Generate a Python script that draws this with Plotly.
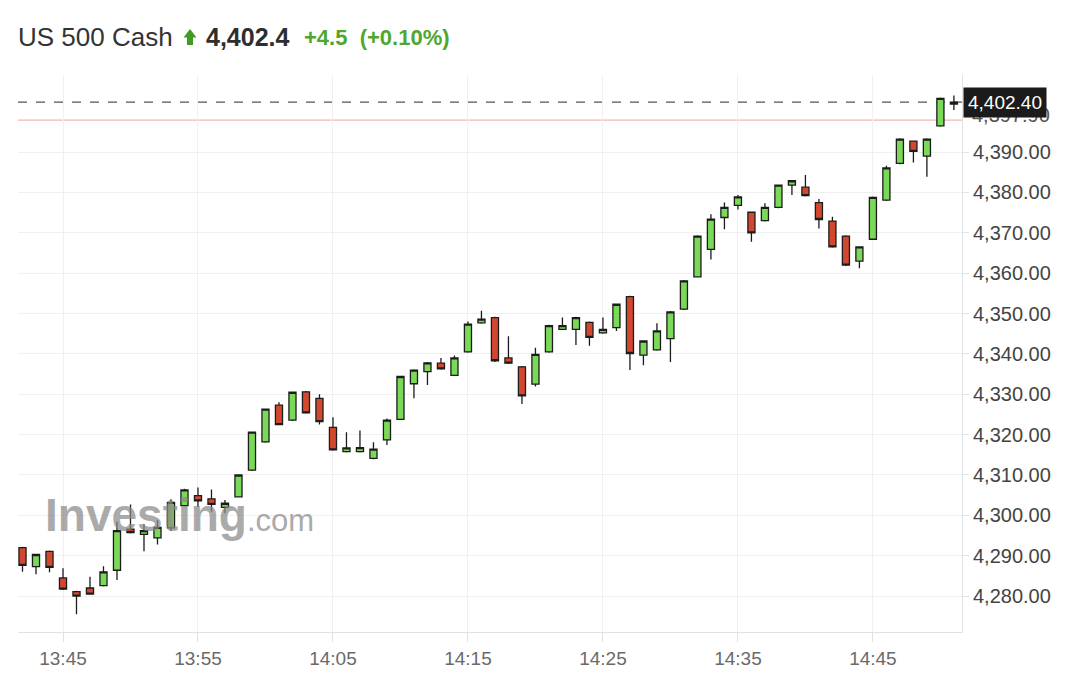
import plotly.graph_objects as go

times = ["13:42","13:43","13:44","13:45","13:46","13:47","13:48","13:49","13:50","13:51",
         "13:52","13:53","13:54","13:55","13:56","13:57","13:58","13:59","14:00","14:01",
         "14:02","14:03","14:04","14:05","14:06","14:07","14:08","14:09","14:10","14:11",
         "14:12","14:13","14:14","14:15","14:16","14:17","14:18","14:19","14:20","14:21",
         "14:22","14:23","14:24","14:25","14:26","14:27","14:28","14:29","14:30","14:31",
         "14:32","14:33","14:34","14:35","14:36","14:37","14:38","14:39","14:40","14:41",
         "14:42","14:43","14:44","14:45","14:46","14:47","14:48","14:49","14:50","14:51"]
opens = [4292.0,4287.3,4291.1,4284.5,4281.1,4282.0,4282.6,4286.4,4296.6,4295.3,
         4294.4,4296.9,4302.4,4304.9,4304.1,4302.0,4304.6,4311.2,4318.2,4327.3,
         4323.6,4330.6,4329.0,4321.8,4315.8,4315.8,4314.1,4318.7,4323.8,4332.6,
         4335.6,4337.7,4334.7,4340.5,4347.7,4349.0,4339.0,4336.8,4332.5,4340.5,
         4346.1,4346.1,4347.8,4345.2,4346.5,4354.2,4339.7,4341.0,4343.8,4351.1,
         4359.1,4365.9,4373.8,4376.8,4375.1,4373.0,4376.3,4381.8,4381.3,4377.5,
         4372.9,4369.2,4363.0,4368.4,4378.1,4387.2,4392.7,4389.0,4396.5,4401.9]
highs = [4292.2,4290.5,4291.3,4286.9,4281.3,4284.8,4287.4,4298.4,4302.7,4297.8,
         4298.8,4304.0,4306.6,4306.9,4306.4,4303.8,4310.2,4320.8,4326.5,4328.0,
         4330.7,4330.8,4330.0,4324.3,4320.6,4321.0,4318.1,4324.0,4334.6,4336.2,
         4338.0,4339.0,4339.6,4348.0,4350.7,4349.2,4344.4,4337.0,4341.5,4347.2,
         4349.0,4349.2,4348.0,4349.0,4352.5,4354.4,4343.4,4347.6,4350.6,4358.3,
         4369.4,4374.6,4377.5,4379.4,4375.3,4377.3,4382.0,4383.1,4384.3,4378.4,
         4374.0,4369.4,4366.7,4379.0,4386.6,4393.4,4392.9,4393.4,4403.5,4404.0]
lows = [4286.0,4285.4,4285.9,4281.5,4275.5,4280.3,4282.4,4284.0,4295.5,4291.1,
        4292.8,4296.1,4302.2,4302.1,4300.9,4300.5,4304.4,4311.0,4318.0,4322.3,
        4323.4,4325.2,4322.5,4316.0,4315.6,4315.6,4313.9,4317.4,4323.6,4329.0,
        4332.3,4336.1,4334.5,4340.3,4347.5,4338.0,4337.5,4327.6,4331.9,4340.3,
        4345.9,4342.2,4342.0,4345.0,4345.7,4336.0,4337.2,4340.8,4338.0,4350.9,
        4358.9,4363.4,4370.9,4375.8,4367.8,4372.8,4376.1,4379.4,4379.0,4371.1,
        4366.3,4361.8,4361.2,4368.2,4377.9,4387.0,4387.4,4383.9,4396.3,4400.4]
closes = [4287.6,4290.3,4287.1,4281.7,4280.0,4280.5,4286.0,4296.2,4295.7,4296.2,
          4297.0,4303.2,4306.3,4303.6,4302.7,4303.0,4310.0,4320.6,4326.3,4322.5,
          4330.5,4325.4,4323.2,4316.2,4316.7,4316.8,4316.4,4323.6,4334.4,4336.0,
          4337.8,4336.3,4339.0,4347.4,4348.6,4338.3,4337.7,4329.6,4339.9,4347.0,
          4347.0,4349.0,4344.1,4346.1,4352.3,4340.1,4343.2,4345.7,4350.4,4358.1,
          4369.2,4373.4,4376.3,4378.9,4370.0,4376.3,4381.8,4382.9,4379.2,4373.3,
          4366.5,4362.0,4366.5,4378.8,4386.1,4393.2,4390.2,4393.2,4403.3,4402.4]

last_price = 4402.4
prev_close = 4397.9
tick_times = ["13:45", "13:55", "14:05", "14:15", "14:25", "14:35", "14:45"]
y_ticks = [4280, 4290, 4300, 4310, 4320, 4330, 4340, 4350, 4360, 4370, 4380, 4390]

day = "2023-07-14 "
x = [day + t for t in times]

fig = go.Figure()
fig.add_trace(go.Candlestick(
    x=x, open=opens, high=highs, low=lows, close=closes,
    increasing=dict(fillcolor="#7bd958", line=dict(color="#1c1c1c", width=1.3)),
    decreasing=dict(fillcolor="#d4472f", line=dict(color="#1c1c1c", width=1.3)),
    whiskerwidth=0, showlegend=False, hoverinfo="skip",
))

fig.add_shape(type="line", xref="paper", x0=0, x1=1, yref="y", y0=prev_close, y1=prev_close,
              line=dict(color="#f2b8a8", width=1.2), layer="below")
fig.add_shape(type="line", xref="paper", x0=0, x1=1, yref="y", y0=last_price, y1=last_price,
              line=dict(color="#555555", width=1.2, dash="dash"), layer="below")

# green up arrow in the header
fig.add_shape(type="path", xref="paper", yref="paper",
              path=("M 0.17532,1.06732 L 0.18220,1.08259 L 0.18909,1.06732 L 0.18538,1.06732 "
                    "L 0.18538,1.05386 L 0.17903,1.05386 L 0.17903,1.06732 Z"),
              fillcolor="#3f9b22", line=dict(width=0))

# watermark
fig.add_annotation(xref="paper", yref="paper", x=0.026, y=0.21, xanchor="left", yanchor="middle",
                   text="<b>Investing</b><span style='font-size:31px'>.com</span>",
                   showarrow=False, opacity=0.72,
                   font=dict(family="Liberation Sans, Arial", size=46, color="#8a8a8a"))

# header texts
fig.add_annotation(xref="paper", yref="paper", x=-0.00212, y=1.068, xanchor="left", yanchor="middle",
                   text="US 500 Cash", showarrow=False,
                   font=dict(family="Liberation Sans, Arial", size=26, color="#333333"))
fig.add_annotation(xref="paper", yref="paper", x=0.19703, y=1.068, xanchor="left", yanchor="middle",
                   text="<b>4,402.4</b>", showarrow=False,
                   font=dict(family="Liberation Sans, Arial", size=25, color="#2e2e2e"))
fig.add_annotation(xref="paper", yref="paper", x=0.30085, y=1.068, xanchor="left", yanchor="middle",
                   text="<b>+4.5  (+0.10%)</b>", showarrow=False,
                   font=dict(family="Liberation Sans, Arial", size=22, color="#4fa82c"))

# right-side price labels (previous close label mostly hidden under the last price box)
fig.add_annotation(xref="paper", yref="y", x=1.0, y=prev_close, xanchor="left", yanchor="middle",
                   text="4,397.90", showarrow=False, xshift=8, yshift=5,
                   font=dict(family="Liberation Sans, Arial", size=20, color="#555"))
fig.add_annotation(xref="paper", yref="y", x=1.0, y=last_price, xanchor="left", yanchor="middle",
                   text="4,402.40", showarrow=False, bgcolor="#1b1b1b", borderpad=4, xshift=1,
                   font=dict(family="Liberation Sans, Arial", size=19, color="#ffffff"))

fig.update_layout(
    width=1080, height=686,
    margin=dict(l=10, r=126, t=67, b=62),
    paper_bgcolor="white", plot_bgcolor="white",
    boxgap=0.25,
    xaxis=dict(
        type="date",
        range=[day + "13:41:40", day + "14:51:36"],
        rangeslider=dict(visible=False),
        tickvals=[day + t for t in tick_times], ticktext=tick_times,
        showgrid=True, gridcolor="#f0f0f0", gridwidth=1,
        showline=True, linecolor="#e2e2e2", linewidth=1,
        ticks="outside", ticklen=9, tickcolor="#e2e2e2",
        tickfont=dict(family="Liberation Sans, Arial", size=19, color="#6a6a6a"),
        fixedrange=True,
    ),
    yaxis=dict(
        side="right",
        range=[4271.1, 4409.1],
        tickvals=y_ticks, tickformat=",.2f",
        showgrid=True, gridcolor="#f0f0f0", gridwidth=1,
        showline=True, linecolor="#e2e2e2", linewidth=1,
        ticks="outside", ticklen=6, tickcolor="#e2e2e2",
        tickfont=dict(family="Liberation Sans, Arial", size=20, color="#444444"),
        zeroline=False, fixedrange=True,
    ),
)

fig.write_html("out.html")
